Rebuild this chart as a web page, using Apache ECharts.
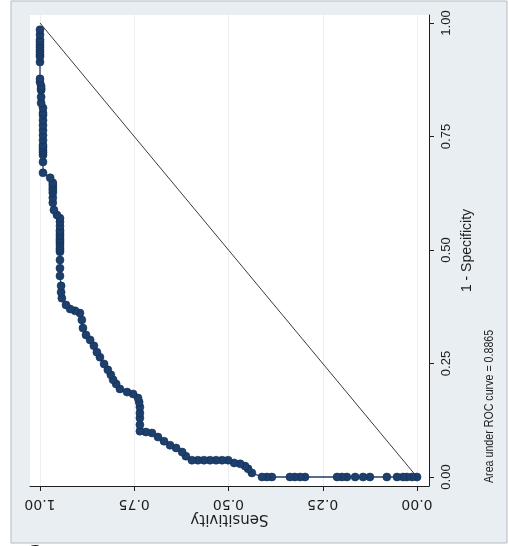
<!DOCTYPE html>
<html>
<head>
<meta charset="utf-8">
<script src="https://cdn.jsdelivr.net/npm/echarts@6/dist/echarts.min.js"></script>
<style>
  html, body { margin: 0; padding: 0; background: #ffffff; }
  #chart { width: 509px; height: 546px; }
</style>
</head>
<body>
<div id="chart"></div>
<script>
// ROC curve points: sensitivity against 1 - specificity, from (0,0) up to (1,1)
const sensitivity = [
  0.000, 0.013, 0.027, 0.037, 0.053, 0.080, 0.125, 0.143, 0.164, 0.186,
  0.199, 0.212, 0.297, 0.310, 0.324, 0.337, 0.385, 0.398, 0.411,
  0.438, 0.448, 0.456, 0.469, 0.485,
  0.501, 0.517, 0.533, 0.549, 0.565, 0.581, 0.597,
  0.613, 0.623, 0.639, 0.655, 0.671, 0.687, 0.703, 0.719, 0.735,
  0.735, 0.735, 0.735, 0.735, 0.737, 0.740,
  0.753, 0.769, 0.788, 0.798, 0.806, 0.812, 0.820, 0.830, 0.841, 0.849,
  0.857, 0.867, 0.878, 0.886, 0.889, 0.894, 0.907, 0.920, 0.931, 0.942,
  0.944, 0.944,
  0.947, 0.947, 0.947, 0.947, 0.947, 0.947, 0.947, 0.947, 0.947, 0.947,
  0.947, 0.947, 0.947, 0.947, 0.947, 0.947, 0.947, 0.947,
  0.955, 0.963,
  0.966, 0.966, 0.966, 0.966, 0.966, 0.966, 0.966,
  0.973,
  0.992, 0.992, 0.992, 0.992, 0.992, 0.992, 0.992, 0.992, 0.992, 0.992,
  0.992, 0.992, 0.992, 0.992, 0.992,
  0.997, 0.997, 0.997, 0.997, 0.997,
  1.000, 1.000, 1.000, 1.000, 1.000, 1.000, 1.000, 1.000, 1.000, 1.000,
  1.000, 1.000, 1.000
];
const oneMinusSpecificity = [
  0.000, 0.000, 0.000, 0.000, 0.000, 0.000, 0.000, 0.000, 0.000, 0.000,
  0.000, 0.000, 0.000, 0.000, 0.000, 0.000, 0.000, 0.000, 0.000,
  0.009, 0.018, 0.024, 0.029, 0.031,
  0.037, 0.037, 0.037, 0.037, 0.037, 0.037, 0.037,
  0.046, 0.055, 0.064, 0.070, 0.079, 0.088, 0.097, 0.099, 0.101,
  0.115, 0.130, 0.141, 0.154, 0.165, 0.174,
  0.183, 0.187, 0.194, 0.205, 0.214, 0.225, 0.236, 0.249, 0.264, 0.275,
  0.289, 0.302, 0.313, 0.328, 0.346, 0.361, 0.366, 0.370, 0.379, 0.394,
  0.407, 0.421,
  0.443, 0.460, 0.478, 0.496, 0.500, 0.504, 0.509, 0.514, 0.518, 0.522,
  0.526, 0.531, 0.535, 0.540, 0.544, 0.553, 0.562, 0.570, 0.577, 0.588,
  0.604, 0.615,
  0.626, 0.632, 0.637, 0.643, 0.648, 0.659, 0.670,
  0.694,
  0.709, 0.715, 0.720, 0.726, 0.731, 0.742, 0.753, 0.764, 0.775, 0.786,
  0.797, 0.802, 0.813, 0.824, 0.837,
  0.852, 0.856, 0.861, 0.870, 0.877,
  0.914, 0.926, 0.930, 0.936, 0.941, 0.947, 0.952, 0.958, 0.963, 0.974,
  0.985, 0.996, 1.000
];
// Reference (chance) line
const chanceSens = [0, 1];
const chanceFpr = [0, 1];
// Tick values shared by both axes
const tickValues = [0, 0.25, 0.5, 0.75, 1];
const sensTitle = 'Sensitivity';
const fprTitle = '1 - Specificity';
const aucNote = 'Area under ROC curve = 0.8865';

const navy = '#1c3f6d';
const ink = '#1e1e1e';

const chart = echarts.init(document.getElementById('chart'), null, { renderer: 'canvas' });

const rocPoints = sensitivity.map((s, i) => [s, oneMinusSpecificity[i]]);
const chancePoints = chanceSens.map((s, i) => [s, chanceFpr[i]]);

const fmt = v => Number(v).toFixed(2);

chart.setOption({
  backgroundColor: '#ffffff',
  animation: false,
  graphic: [
    {
      type: 'rect', z: -20, silent: true,
      shape: { x: 11, y: 1, width: 496, height: 542 },
      style: { fill: '#e8eef2', stroke: '#b4bbc1', lineWidth: 1 }
    },
    {
      // note set in a condensed face: text is narrowed along its own direction
      type: 'text', z: 10, silent: true,
      x: 489, y: 483, rotation: Math.PI / 2, scaleX: 0.82,
      style: {
        text: aucNote, fill: ink,
        font: '13px "Liberation Sans", sans-serif',
        align: 'left', verticalAlign: 'middle'
      }
    },
    {
      type: 'text', z: 10, silent: true,
      x: 26, y: 543,
      style: {
        text: 'C', fill: '#111111',
        font: 'bold 24px "Liberation Sans", sans-serif',
        align: 'left', verticalAlign: 'top'
      }
    }
  ],
  grid: {
    left: 30, right: 80, top: 15, bottom: 60,
    show: true, backgroundColor: '#ffffff', borderWidth: 0
  },
  xAxis: {
    type: 'value',
    min: -0.0318, max: 1.0265,
    inverse: true,
    position: 'bottom',
    axisLine: { show: true, onZero: false, lineStyle: { color: ink, width: 1 } },
    axisTick: { show: true, length: 5, customValues: tickValues, lineStyle: { color: ink, width: 1 } },
    axisLabel: {
      customValues: tickValues, rotate: 180, margin: 11,
      fontFamily: 'DejaVu Sans', fontSize: 14, color: ink, formatter: fmt
    },
    splitLine: { show: true, lineStyle: { color: '#eceff2', width: 1 } },
    name: sensTitle, nameLocation: 'middle', nameRotate: 180, nameGap: 25,
    nameMoveOverlap: false,
    nameTextStyle: { fontFamily: 'DejaVu Sans', fontSize: 15, color: ink }
  },
  yAxis: {
    type: 'value',
    min: -0.0198, max: 1.0176,
    position: 'right',
    axisLine: { show: true, onZero: false, lineStyle: { color: ink, width: 1 } },
    axisTick: { show: true, length: 5, customValues: tickValues, lineStyle: { color: ink, width: 1 } },
    axisLabel: {
      customValues: tickValues, rotate: 90, margin: 11,
      fontFamily: 'Liberation Sans', fontSize: 13, color: ink, formatter: fmt
    },
    splitLine: { show: false },
    name: fprTitle, nameLocation: 'middle', nameRotate: 90, nameGap: 31,
    nameMoveOverlap: false,
    nameTextStyle: { fontFamily: 'Liberation Sans', fontSize: 14, color: ink }
  },
  series: [
    {
      type: 'line',
      data: chancePoints,
      showSymbol: false,
      symbol: 'none',
      lineStyle: { color: '#3a3a3a', width: 1 },
      silent: true,
      z: 2
    },
    {
      type: 'line',
      data: rocPoints,
      symbol: 'circle',
      symbolSize: 8,
      showAllSymbol: true,
      itemStyle: { color: navy, borderColor: '#142f54', borderWidth: 0.6 },
      lineStyle: { color: navy, width: 1.3 },
      silent: true,
      z: 3
    }
  ]
});
</script>
</body>
</html>
